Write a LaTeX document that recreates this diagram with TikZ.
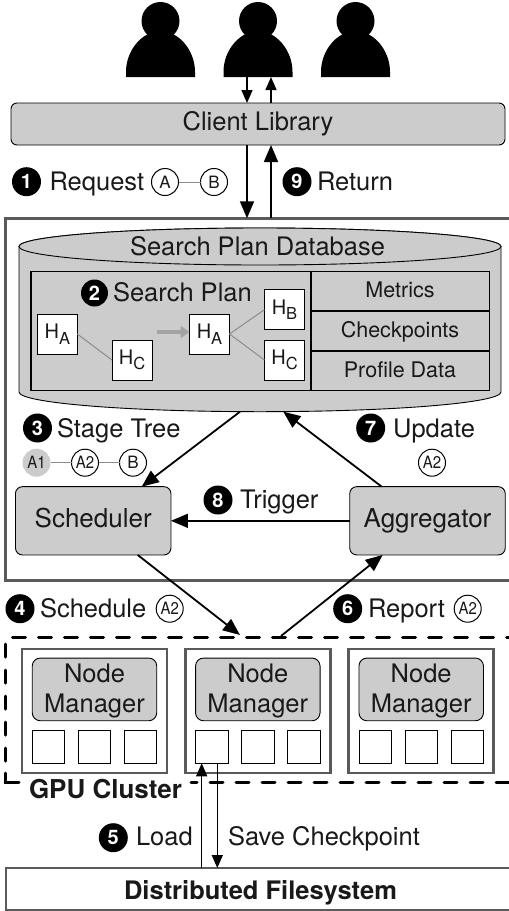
\documentclass[tikz,border=0pt]{standalone}
\usepackage{fontspec}
\setmainfont{TeX Gyre Heros}
\usetikzlibrary{arrows.meta,shapes.geometric,calc}
\definecolor{boxgray}{HTML}{CCCCCC}
\definecolor{framegray}{HTML}{5A5A5A}
\definecolor{linegray}{HTML}{8C8C8C}
\newcommand{\fs}[1]{\fontsize{#1}{#1}\selectfont}
\newcommand{\nar}[1]{\scalebox{0.88}[1]{#1}}
\newcommand{\hlab}[1]{H\raisebox{-5.5pt}{\fs{16.5}#1}}
\tikzset{
  every node/.style={inner sep=0pt,outer sep=0pt,text=black!90},
  rbox/.style={draw=black,line width=0.9pt,fill=boxgray,rounded corners=6pt,align=center},
  frame/.style={draw=framegray,line width=2.6pt,fill=none},
  hbox/.style={draw=black,line width=0.9pt,fill=white,minimum width=40pt,minimum height=40pt,font=\fs{20}},
  slot/.style={draw=black,line width=0.9pt,fill=white,minimum width=32.5pt,minimum height=32.5pt},
  num/.style={circle,fill=black,minimum size=29pt,text=white,font=\fs{20}\bfseries},
  tag/.style={circle,draw=black,line width=1pt,fill=white,minimum size=27pt,font=\fs{17}},
  tagfill/.style={circle,fill=boxgray,minimum size=28pt,font=\fs{17}},
  lab/.style={font=\fs{25.5},anchor=base west},
  flow/.style={draw=black,line width=1.8pt,-{Triangle[length=17pt,width=14pt]}},
  thinflow/.style={draw=black,line width=1.5pt,-{Triangle[length=13pt,width=11pt]}},
  plain/.style={draw=linegray,line width=1pt},
  person/.style={fill=black},
  cell/.style={draw=black,line width=1.1pt,minimum width=178.5pt,minimum height=39.7pt,font=\fs{21.5},text height=15.4pt,text depth=2pt},
  bigbox/.style={rbox,minimum width=155.5pt,minimum height=68.3pt,font=\fs{26},rounded corners=7pt,text height=18.5pt,text depth=5.5pt},
  dashline/.style={line width=3pt,line cap=round,dash pattern=on 13pt off 13pt}
}
\begin{document}
\begin{tikzpicture}[x=1pt,y=-1pt]
\useasboundingbox (0,0) rectangle (509,911);
% people
\foreach \n/\px in {u1/160.5,u2/258,u3/355.5}{
  \fill[person] (\px,21) circle (19);
  \fill[person] (\px-34.5,77) -- (\px-34.5,72) .. controls (\px-34.5,50) and (\px-18,31) .. (\px,31) .. controls (\px+18,31) and (\px+34.5,50) .. (\px+34.5,72) -- (\px+34.5,77) -- cycle;
  \coordinate (\n) at (\px,77);
}
% client library
\node[rbox,minimum width=494pt,minimum height=42pt,font=\fs{25.5}] (client) at (258,124) {Client Library};
\draw[thinflow] ([xshift=-11pt]u2) -- ([xshift=-11pt]client.north);
\draw[thinflow] ([xshift=13pt]client.north) -- ([xshift=13pt]u2);
% server frame
\node[frame,minimum width=520pt,minimum height=362.5pt] (server) at (265.5,399.5) {};
\draw[flow] ([xshift=-11pt]client.south) -- ([xshift=-18.5pt]server.north);
\draw[flow] ([xshift=5.5pt]server.north) -- ([xshift=13pt]client.south);
% labels 1 / 9
\node[num] (n1) at (26.5,181.7) {1};
\node[lab] (l1) at (49.5,190) {Request};
\node[tag] (ta) at (165,182) {A};
\node[tag] (tb) at (214,182) {B};
\draw[plain] (ta) -- (tb);
\node[num] (n9) at (297,181.7) {9};
\node[lab] (l9) at (317,190) {Return};
% database cylinder
\draw[draw=black,line width=0.9pt,fill=boxgray] (19,246.5) -- (19,392) arc[start angle=180,end angle=360,x radius=241,y radius=-19.7] -- (501,246.5) arc[start angle=0,end angle=180,x radius=241,y radius=-18.5] -- cycle;
\node[draw=black,line width=0.9pt,fill=boxgray,ellipse,minimum width=482pt,minimum height=37pt,font=\fs{25.5},text height=18pt,text depth=1pt] (db) at (260,246.5) {Search Plan Database\hspace*{5pt}};
\coordinate (dbbot) at (260,411.7);
% search plan panel
\node[draw=black,line width=1.1pt,minimum width=280pt,minimum height=119pt] (plan) at (171,331) {};
\node[cell] (metrics) at (400,291) {Metrics};
\node[cell] (ckpt) at (400,331) {Checkpoints};
\node[cell] (prof) at (400,371) {Profile Data};
\node[num,minimum size=27pt] (n2) at (94.5,293) {2};
\node[lab] (l2) at (113,301.7) {Search Plan};
\node[hbox] (ha1) at (57.3,334) {\hlab{A}};
\node[hbox] (hc1) at (132,360) {\hlab{C}};
\node[hbox] (ha2) at (209.5,334) {\hlab{A}};
\node[hbox] (hb2) at (284.5,309.7) {\hlab{B}};
\node[hbox] (hc2) at (284.5,360) {\hlab{C}};
\draw[plain] (ha1.east) -- (hc1.west);
\draw[plain] (ha2.east) -- (hb2.west);
\draw[plain] (ha2.east) -- (hc2.west);
\coordinate (g1) at (157,332);
\draw[draw=linegray!80,line width=4pt,-{Triangle[length=9pt,width=12pt]}] (g1) -- ([yshift=2pt]ha2.west);
% scheduler / aggregator
\node[bigbox] (sched) at (93.2,520.8) {Scheduler};
\node[bigbox] (aggr) at (427.5,520.8) {Aggregator};
\draw[flow] ([xshift=-20pt]dbbot) -- ([xshift=48.5pt]sched.north);
\draw[flow] ([xshift=-45.8pt]aggr.north) -- ([xshift=23.3pt]dbbot);
\draw[flow] (aggr.west) -- (sched.east);
\node[num] (n3) at (37.5,428) {3};
\node[lab] (l3) at (57,437) {Stage Tree};
\node[tagfill] (t31) at (36.5,462.7) {\nar{A1}};
\node[tag] (t32) at (85,462.7) {\nar{A2}};
\node[tag] (t33) at (133,462.7) {B};
\draw[plain] (t31) -- (t32);
\draw[plain] (t32) -- (t33);
\node[num] (n7) at (370.7,428) {7};
\node[lab] (l7) at (393,437) {Update};
\node[tag] (t7) at (432,462.7) {\nar{A2}};
\node[num] (n8) at (218,500) {8};
\node[lab] (l8) at (240,508) {Trigger};
% cluster
\coordinate (cltop1) at (240,635);
\coordinate (cltop2) at (281,636);
\draw[flow] ([xshift=44.5pt]sched.south) -- (cltop1);
\draw[flow] (cltop2) -- ([xshift=-44.8pt]aggr.south);
\draw[dashline] (12.5,637.3) -- (515,637.3);
\draw[dashline] (5.5,644) -- (5.5,775);
\draw[line width=3pt,line cap=round] (5.5,773) -- (5.5,782.7) -- (19,782.7);
\draw[dashline,dash phase=7pt] (191,782.7) -- (515,782.7);
\node[font=\fs{26}\bfseries,anchor=base west] (gpu) at (29,798) {GPU Cluster};
\node[num] (n4) at (20,608.7) {4};
\node[lab] (l4) at (40,617) {Schedule};
\node[tag] (t4) at (169.7,608.7) {\nar{A2}};
\node[num] (n6) at (347.7,608.7) {6};
\node[lab] (l6) at (368,617) {Report};
\node[tag] (t6) at (467.7,608.7) {\nar{A2}};
% node groups
\foreach \g/\ox/\mx/\sa/\sb/\sc in {a/94.5/94.5/48.6/94.6/140.5, b/258/257.8/212/258/303.8, c/421.2/421.2/375.3/421.3/467.2}{
  \node[frame,minimum width=145pt,minimum height=124pt] (grp\g) at (\ox,711) {};
  \node[rbox,minimum width=124.5pt,minimum height=62.7pt,rounded corners=8pt,font=\fs{25.5}] (mgr\g) at (\mx,689.4) {\rule{0pt}{22.5pt}Node\\[4.5pt]Manager};
  \node[slot] (s1\g) at (\sa,747) {};
  \node[slot] (s2\g) at (\sb,747) {};
  \node[slot] (s3\g) at (\sc,747) {};
}
% filesystem
\node[draw=framegray,line width=2.6pt,fill=white,minimum width=520pt,minimum height=42pt] (dfs) at (266,889) {};
\node[font=\fs{25.5}\bfseries,anchor=base] (dfst) at (260.5,899) {Distributed Filesystem};
\draw[thinflow] ([xshift=-10.3pt]dfs.north -| s1b.south) -- ([xshift=-10.3pt]s1b.south);
\draw[thinflow] ([xshift=5.3pt]s1b.south) -- ([xshift=5.3pt]s1b.south |- dfs.north);
\node[num] (n5) at (113.3,837.7) {5};
\node[lab] (l5) at (136,845.7) {Load};
\node[lab] (ls) at (228,845.7) {Save Checkpoint};
\end{tikzpicture}
\end{document}
